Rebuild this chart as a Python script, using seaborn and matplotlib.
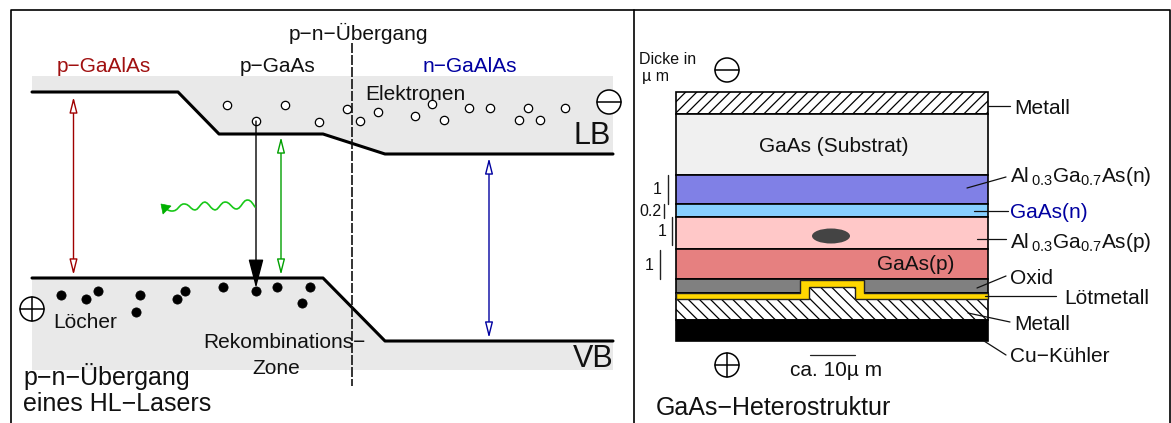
import matplotlib
matplotlib.use("Agg")
import matplotlib.pyplot as plt
import seaborn as sns
from matplotlib.patches import Circle, Ellipse, Polygon

sns.set_theme(style="white")
plt.rcParams['font.family'] = ['Liberation Sans', 'DejaVu Sans']
plt.rcParams['hatch.linewidth'] = 0.9
plt.rcParams['mathtext.fontset'] = 'custom'
plt.rcParams['mathtext.rm'] = 'Liberation Sans'

# band edges of the junction (picture pixels)
cb_x = [32, 178, 219, 323, 385, 613]
cb_y = [92, 92, 134, 134, 154, 154]
vb_x = [32, 323, 385, 613]
vb_y = [278, 278, 341, 341]

electron_x = [227, 285, 256, 319, 347, 360, 378, 415, 432, 444, 469, 490, 519, 528, 540, 565]
electron_y = [105, 105, 121, 122, 109, 121, 112, 116, 104, 120, 108, 108, 120, 108, 120, 108]
hole_x = [61, 86, 98, 140, 136, 177, 185, 223, 256, 277, 302, 310]
hole_y = [295, 299, 291, 295, 312, 299, 291, 287, 291, 287, 303, 287]

wave_x = [255, 253, 251, 249, 247, 245, 243, 241, 239, 237, 235, 233, 231, 229, 227, 225, 223, 221, 219, 217, 215,
          213, 211, 209, 207, 205, 203, 201, 199, 197, 195, 193, 191, 189, 187, 185, 183, 181, 179, 177, 175, 173,
          171, 169, 167]
wave_y = [207, 204, 201.5, 200.2, 200, 200.8, 203, 205.8, 208, 209, 208.8, 207.5, 205.5, 203.5, 202.3, 202, 202.6,
          204.5, 207, 209.2, 210, 209.2, 207.5, 205, 203, 202, 202.6, 204.5, 207, 209.2, 210, 209.5, 208, 206,
          204.6, 204, 204, 205, 207, 209.2, 210.5, 211, 211, 210.5, 209.5]

# layer stack, top to bottom
layer_names = ["metal_top", "substrate", "algaas_n", "gaas_n", "algaas_p", "gaas_p", "oxide", "solder", "metal_bottom", "cooler"]
layer_top = [92, 114, 175, 204, 217, 249, 279, 293, 299, 320]
layer_bottom = [114, 175, 204, 217, 249, 279, 293, 299, 320, 341]
layer_colors = ["white", "#f0f0f0", "#8080e6", "#87cfff", "#ffc8c8", "#e68080", "#808080", "#ffd700", "white", "black"]
layer_hatch = ["///", None, None, None, None, None, None, None, "\\\\\\", None]

fig = plt.figure(figsize=(11.71, 4.23), dpi=100)
ax = fig.add_axes([0, 0, 1, 1])


def put(x, y, s, size=15, color="#111111", ha="left", **kw):
    ax.text(x, y, s, fontsize=size, color=color, ha=ha, va="center", **kw)


def leader(x0, y0, x1, y1):
    ax.plot([x0, x1], [y0, y1], color="#111111", lw=0.9, zorder=6)


def sign(x, y, minus=False):
    ax.add_patch(Circle((x, y), 12, fc="white", ec="black", lw=1.1, zorder=6))
    ax.plot([x - 12, x + 12], [y, y], color="black", lw=1.1, zorder=7)
    if not minus:
        ax.plot([x, x], [y - 12, y + 12], color="black", lw=1.1, zorder=7)


def double_arrow(x, y0, y1, color):
    ax.annotate("", xy=(x, y1), xytext=(x, y0), zorder=4,
                arrowprops=dict(arrowstyle="<|-|>,head_length=0.95,head_width=0.24", mutation_scale=10,
                                fc="white", ec=color, lw=1.0, shrinkA=0, shrinkB=0))


# left panel: bands
ax.add_patch(Polygon([(32, 76), (613, 76)] + list(zip(cb_x, cb_y))[::-1], fc="#e9e9e9", ec="none", zorder=1))
ax.add_patch(Polygon(list(zip(vb_x, vb_y)) + [(613, 370), (32, 370)], fc="#e9e9e9", ec="none", zorder=1))
sns.lineplot(x=cb_x, y=cb_y, sort=False, estimator=None, color="black", lw=2.2, ax=ax, zorder=3, legend=False)
sns.lineplot(x=vb_x, y=vb_y, sort=False, estimator=None, color="black", lw=2.2, ax=ax, zorder=3, legend=False)
ax.plot([352, 352], [43, 386], color="#111111", lw=1.2, dashes=(6, 1.2), zorder=5)

sns.scatterplot(x=electron_x, y=electron_y, s=36, color="white", edgecolor="black", linewidth=0.9, ax=ax, zorder=4, legend=False)
sns.scatterplot(x=hole_x, y=hole_y, s=44, color="black", edgecolor="black", ax=ax, zorder=4, legend=False)

double_arrow(73.5, 97, 275, "#a00000")
double_arrow(281, 137, 275, "#00a000")
double_arrow(489, 158, 338, "#0000a0")
ax.annotate("", xy=(256, 288), xytext=(256, 121), zorder=4,
            arrowprops=dict(arrowstyle="-|>,head_length=1.8,head_width=0.47", mutation_scale=10,
                            fc="black", ec="black", lw=1.0, shrinkA=0, shrinkB=0))
sns.lineplot(x=wave_x, y=wave_y, sort=False, estimator=None, color="#18c818", lw=1.2, ax=ax, zorder=4, legend=False)
ax.add_patch(Polygon([(161, 204), (171, 206), (163, 214)], fc="#00b000", ec="#00b000", lw=0.5, zorder=5))

put(289, 33, "p−n−Übergang")
put(57, 66, "p−GaAlAs", color="#a01010")
put(240, 66, "p−GaAs")
put(423, 66, "n−GaAlAs", color="#0000a0")
put(365, 94, "Elektronen")
put(573, 136, "LB", size=22)
put(573, 359, "VB", size=22)
put(53, 323, "Löcher")
put(203, 343, "Rekombinations−")
put(252, 368, "Zone")
put(23, 376, "p−n−Übergang", size=18)
put(23, 404, "eines HL−Lasers", size=18)
sign(32, 309)
sign(609, 102, minus=True)

# right panel: layers
for name, top, bottom, col, hat in zip(layer_names, layer_top, layer_bottom, layer_colors, layer_hatch):
    ax.bar(832, bottom - top, width=312, bottom=top, color=col, hatch=hat, edgecolor="black", lw=1.2, zorder=2)

# bump in the oxide, solder wraps round it
ax.add_patch(Polygon([(809, 287), (855, 287), (855, 301), (809, 301)], fc="white", ec="black", lw=0,
                     hatch="\\\\\\", zorder=3))
ax.add_patch(Polygon([(800, 280), (864, 280), (864, 293), (988, 293), (988, 299), (855, 299), (855, 287),
                      (809, 287), (809, 299), (676, 299), (676, 293), (800, 293)],
                     fc="#ffd700", ec="#222222", lw=1.0, zorder=4))
ax.add_patch(Ellipse((831, 236), 38, 15, fc="#444444", ec="none", zorder=4))

leader(988, 106, 1010, 106)
leader(967, 188, 1006, 177)
leader(974, 211, 1008, 211)
leader(977, 239, 1006, 239)
leader(977, 288, 1006, 276)
leader(985, 296, 1056, 296)
leader(968, 313, 1010, 322)
leader(984, 341, 1006, 355)
for x, y0, y1 in [(668, 175, 204), (664, 204, 218), (672, 217, 245), (660, 250, 279)]:
    ax.plot([x, x], [y0, y1], color="#222222", lw=1.0)
ax.plot([810, 855], [355, 355], color="#222222", lw=0.9)

put(759, 146, "GaAs (Substrat)")
put(877, 265, "GaAs(p)")
put(1014, 108, "Metall")
put(1010, 177, r"Al$_{\,0.3}$Ga$_{0.7}$As(n)")
put(1010, 212, "GaAs(n)", color="#0000a0")
put(1010, 243, r"Al$_{\,0.3}$Ga$_{0.7}$As(p)")
put(1010, 278, "Oxid")
put(1064, 298, "Lötmetall")
put(1014, 324, "Metall")
put(1010, 357, "Cu−Kühler")
put(639, 59, "Dicke in", size=11.5)
put(642, 76, "µ m", size=11.5)
put(662, 190, "1", size=11.5, ha="right")
put(661, 211, "0.2", size=11.5, ha="right")
put(667, 231, "1", size=11.5, ha="right")
put(654, 265, "1", size=11.5, ha="right")
put(790, 370, "ca. 10µ m")
put(656, 408, "GaAs−Heterostruktur", size=18)
sign(727, 70, minus=True)
sign(727, 365)

# frame, open at the bottom
ax.plot([11, 11, 1170, 1170], [423, 10, 10, 423], color="black", lw=1.2, zorder=8)
ax.plot([634, 634], [10, 423], color="black", lw=1.2, zorder=8)

ax.set_xlim(0, 1171)
ax.set_ylim(423, 0)
ax.axis("off")
fig.savefig("out.png", dpi=100)
